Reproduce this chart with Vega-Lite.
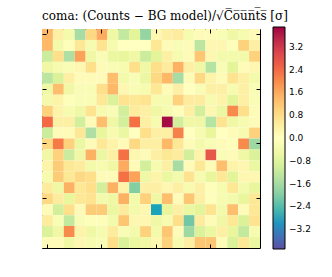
{
  "$schema": "https://vega.github.io/schema/vega-lite/v6.json",
  "width": 218,
  "height": 219,
  "autosize": {"type": "none"},
  "padding": {"left": 42, "top": 29, "right": 72, "bottom": 29},
  "background": "white",
  "title": {"text": "coma: (Counts − BG model)/√C̅o̅u̅n̅t̅s̅ [σ]", "font": "DejaVu Serif", "fontSize": 12, "fontWeight": "normal", "offset": 4, "anchor": "middle", "dx": 14, "color": "black"},
  "config": {"view": {"stroke": "black", "strokeWidth": 1}},
  "data": {"values": [
{"r":0,"c":0,"v":1.4},{"r":0,"c":1,"v":0.4},{"r":0,"c":2,"v":-0.4},{"r":0,"c":3,"v":-1.6},{"r":0,"c":4,"v":0.9},{"r":0,"c":5,"v":1.6},{"r":0,"c":6,"v":-0.5},{"r":0,"c":7,"v":-1.2},{"r":0,"c":8,"v":-0.8},{"r":0,"c":9,"v":-1.8},{"r":0,"c":10,"v":0.2},{"r":0,"c":11,"v":0.4},{"r":0,"c":12,"v":0.5},{"r":0,"c":13,"v":-0.3},{"r":0,"c":14,"v":0.1},{"r":0,"c":15,"v":0.1},{"r":0,"c":16,"v":-0.2},{"r":0,"c":17,"v":-0.5},{"r":0,"c":18,"v":-0.3},{"r":0,"c":19,"v":0.1},
{"r":1,"c":0,"v":1.4},{"r":1,"c":1,"v":-0.4},{"r":1,"c":2,"v":-0.1},{"r":1,"c":3,"v":0.6},{"r":1,"c":4,"v":-0.3},{"r":1,"c":5,"v":0.7},{"r":1,"c":6,"v":-0.3},{"r":1,"c":7,"v":0.0},{"r":1,"c":8,"v":0.0},{"r":1,"c":9,"v":0.0},{"r":1,"c":10,"v":0.6},{"r":1,"c":11,"v":0.1},{"r":1,"c":12,"v":-0.2},{"r":1,"c":13,"v":0.1},{"r":1,"c":14,"v":-1.3},{"r":1,"c":15,"v":0.2},{"r":1,"c":16,"v":0.2},{"r":1,"c":17,"v":-0.1},{"r":1,"c":18,"v":1.0},{"r":1,"c":19,"v":0.4},
{"r":2,"c":0,"v":-1.1},{"r":2,"c":1,"v":0.8},{"r":2,"c":2,"v":-1.5},{"r":2,"c":3,"v":1.7},{"r":2,"c":4,"v":-0.5},{"r":2,"c":5,"v":-0.2},{"r":2,"c":6,"v":-0.6},{"r":2,"c":7,"v":-0.7},{"r":2,"c":8,"v":-0.5},{"r":2,"c":9,"v":-1.1},{"r":2,"c":10,"v":-0.8},{"r":2,"c":11,"v":0.4},{"r":2,"c":12,"v":-0.3},{"r":2,"c":13,"v":0.1},{"r":2,"c":14,"v":1.2},{"r":2,"c":15,"v":0.2},{"r":2,"c":16,"v":-0.4},{"r":2,"c":17,"v":-0.4},{"r":2,"c":18,"v":-0.4},{"r":2,"c":19,"v":1.0},
{"r":3,"c":0,"v":-0.5},{"r":3,"c":1,"v":-0.3},{"r":3,"c":2,"v":-0.2},{"r":3,"c":3,"v":0.2},{"r":3,"c":4,"v":0.8},{"r":3,"c":5,"v":0.1},{"r":3,"c":6,"v":-0.2},{"r":3,"c":7,"v":-0.3},{"r":3,"c":8,"v":0.8},{"r":3,"c":9,"v":-0.5},{"r":3,"c":10,"v":0.8},{"r":3,"c":11,"v":0.5},{"r":3,"c":12,"v":1.5},{"r":3,"c":13,"v":0.4},{"r":3,"c":14,"v":-0.5},{"r":3,"c":15,"v":-1.4},{"r":3,"c":16,"v":-0.2},{"r":3,"c":17,"v":-0.8},{"r":3,"c":18,"v":0.1},{"r":3,"c":19,"v":0.2},
{"r":4,"c":0,"v":-1.3},{"r":4,"c":1,"v":-0.9},{"r":4,"c":2,"v":0.4},{"r":4,"c":3,"v":0.1},{"r":4,"c":4,"v":0.1},{"r":4,"c":5,"v":0.1},{"r":4,"c":6,"v":1.3},{"r":4,"c":7,"v":-0.4},{"r":4,"c":8,"v":-0.2},{"r":4,"c":9,"v":-0.6},{"r":4,"c":10,"v":0.9},{"r":4,"c":11,"v":1.4},{"r":4,"c":12,"v":-1.6},{"r":4,"c":13,"v":0.1},{"r":4,"c":14,"v":0.9},{"r":4,"c":15,"v":0.3},{"r":4,"c":16,"v":0.1},{"r":4,"c":17,"v":0.7},{"r":4,"c":18,"v":0.4},{"r":4,"c":19,"v":-0.4},
{"r":5,"c":0,"v":-0.5},{"r":5,"c":1,"v":1.3},{"r":5,"c":2,"v":-0.5},{"r":5,"c":3,"v":-0.2},{"r":5,"c":4,"v":-0.2},{"r":5,"c":5,"v":0.8},{"r":5,"c":6,"v":1.4},{"r":5,"c":7,"v":0.2},{"r":5,"c":8,"v":-0.2},{"r":5,"c":9,"v":-0.3},{"r":5,"c":10,"v":0.6},{"r":5,"c":11,"v":0.1},{"r":5,"c":12,"v":0.4},{"r":5,"c":13,"v":0.0},{"r":5,"c":14,"v":-0.2},{"r":5,"c":15,"v":0.4},{"r":5,"c":16,"v":0.4},{"r":5,"c":17,"v":-0.3},{"r":5,"c":18,"v":0.4},{"r":5,"c":19,"v":-0.2},
{"r":6,"c":0,"v":-0.4},{"r":6,"c":1,"v":0.3},{"r":6,"c":2,"v":-0.1},{"r":6,"c":3,"v":-0.2},{"r":6,"c":4,"v":-0.2},{"r":6,"c":5,"v":0.6},{"r":6,"c":6,"v":-0.9},{"r":6,"c":7,"v":0.7},{"r":6,"c":8,"v":0.6},{"r":6,"c":9,"v":0.7},{"r":6,"c":10,"v":-0.3},{"r":6,"c":11,"v":-0.3},{"r":6,"c":12,"v":1.0},{"r":6,"c":13,"v":0.5},{"r":6,"c":14,"v":0.5},{"r":6,"c":15,"v":-0.3},{"r":6,"c":16,"v":0.3},{"r":6,"c":17,"v":-0.8},{"r":6,"c":18,"v":0.4},{"r":6,"c":19,"v":-0.2},
{"r":7,"c":0,"v":1.0},{"r":7,"c":1,"v":0.3},{"r":7,"c":2,"v":-0.3},{"r":7,"c":3,"v":-0.5},{"r":7,"c":4,"v":0.7},{"r":7,"c":5,"v":-0.3},{"r":7,"c":6,"v":-0.2},{"r":7,"c":7,"v":-1.0},{"r":7,"c":8,"v":0.5},{"r":7,"c":9,"v":0.4},{"r":7,"c":10,"v":-0.5},{"r":7,"c":11,"v":-0.3},{"r":7,"c":12,"v":-0.1},{"r":7,"c":13,"v":0.4},{"r":7,"c":14,"v":-1.0},{"r":7,"c":15,"v":0.2},{"r":7,"c":16,"v":-0.6},{"r":7,"c":17,"v":2.0},{"r":7,"c":18,"v":0.8},{"r":7,"c":19,"v":0.1},
{"r":8,"c":0,"v":2.4},{"r":8,"c":1,"v":0.4},{"r":8,"c":2,"v":0.4},{"r":8,"c":3,"v":-1.0},{"r":8,"c":4,"v":0.1},{"r":8,"c":5,"v":1.3},{"r":8,"c":6,"v":-0.5},{"r":8,"c":7,"v":-1.0},{"r":8,"c":8,"v":2.3},{"r":8,"c":9,"v":0.4},{"r":8,"c":10,"v":-0.3},{"r":8,"c":11,"v":3.8},{"r":8,"c":12,"v":-1.0},{"r":8,"c":13,"v":-0.5},{"r":8,"c":14,"v":-0.5},{"r":8,"c":15,"v":-1.4},{"r":8,"c":16,"v":0.7},{"r":8,"c":17,"v":-0.5},{"r":8,"c":18,"v":-0.3},{"r":8,"c":19,"v":0.1},
{"r":9,"c":0,"v":-1.1},{"r":9,"c":1,"v":0.1},{"r":9,"c":2,"v":0.1},{"r":9,"c":3,"v":0.6},{"r":9,"c":4,"v":-1.5},{"r":9,"c":5,"v":-0.7},{"r":9,"c":6,"v":-0.3},{"r":9,"c":7,"v":-0.6},{"r":9,"c":8,"v":0.0},{"r":9,"c":9,"v":0.8},{"r":9,"c":10,"v":0.4},{"r":9,"c":11,"v":0.4},{"r":9,"c":12,"v":2.1},{"r":9,"c":13,"v":0.0},{"r":9,"c":14,"v":-0.3},{"r":9,"c":15,"v":-0.7},{"r":9,"c":16,"v":0.0},{"r":9,"c":17,"v":0.1},{"r":9,"c":18,"v":-0.3},{"r":9,"c":19,"v":1.0},
{"r":10,"c":0,"v":0.9},{"r":10,"c":1,"v":2.2},{"r":10,"c":2,"v":1.0},{"r":10,"c":3,"v":-0.6},{"r":10,"c":4,"v":0.1},{"r":10,"c":5,"v":0.6},{"r":10,"c":6,"v":0.3},{"r":10,"c":7,"v":0.1},{"r":10,"c":8,"v":0.9},{"r":10,"c":9,"v":0.4},{"r":10,"c":10,"v":0.4},{"r":10,"c":11,"v":1.4},{"r":10,"c":12,"v":0.6},{"r":10,"c":13,"v":0.1},{"r":10,"c":14,"v":-0.4},{"r":10,"c":15,"v":-0.2},{"r":10,"c":16,"v":0.1},{"r":10,"c":17,"v":-0.1},{"r":10,"c":18,"v":2.0},{"r":10,"c":19,"v":-1.7},
{"r":11,"c":0,"v":-0.5},{"r":11,"c":1,"v":1.0},{"r":11,"c":2,"v":-1.1},{"r":11,"c":3,"v":-0.5},{"r":11,"c":4,"v":1.5},{"r":11,"c":5,"v":-0.6},{"r":11,"c":6,"v":0.4},{"r":11,"c":7,"v":2.3},{"r":11,"c":8,"v":0.2},{"r":11,"c":9,"v":0.1},{"r":11,"c":10,"v":0.4},{"r":11,"c":11,"v":0.6},{"r":11,"c":12,"v":0.5},{"r":11,"c":13,"v":-1.0},{"r":11,"c":14,"v":0.3},{"r":11,"c":15,"v":2.7},{"r":11,"c":16,"v":-0.2},{"r":11,"c":17,"v":0.1},{"r":11,"c":18,"v":-0.5},{"r":11,"c":19,"v":-0.9},
{"r":12,"c":0,"v":0.3},{"r":12,"c":1,"v":1.1},{"r":12,"c":2,"v":0.6},{"r":12,"c":3,"v":0.5},{"r":12,"c":4,"v":-0.4},{"r":12,"c":5,"v":-0.3},{"r":12,"c":6,"v":-0.5},{"r":12,"c":7,"v":1.6},{"r":12,"c":8,"v":0.1},{"r":12,"c":9,"v":-1.0},{"r":12,"c":10,"v":-0.3},{"r":12,"c":11,"v":0.4},{"r":12,"c":12,"v":-1.6},{"r":12,"c":13,"v":0.1},{"r":12,"c":14,"v":0.6},{"r":12,"c":15,"v":0.1},{"r":12,"c":16,"v":1.3},{"r":12,"c":17,"v":0.3},{"r":12,"c":18,"v":0.2},{"r":12,"c":19,"v":-0.6},
{"r":13,"c":0,"v":-0.3},{"r":13,"c":1,"v":1.1},{"r":13,"c":2,"v":0.6},{"r":13,"c":3,"v":0.9},{"r":13,"c":4,"v":0.8},{"r":13,"c":5,"v":0.1},{"r":13,"c":6,"v":0.1},{"r":13,"c":7,"v":2.3},{"r":13,"c":8,"v":1.7},{"r":13,"c":9,"v":-0.5},{"r":13,"c":10,"v":0.3},{"r":13,"c":11,"v":-0.6},{"r":13,"c":12,"v":-0.4},{"r":13,"c":13,"v":0.7},{"r":13,"c":14,"v":-0.3},{"r":13,"c":15,"v":-0.7},{"r":13,"c":16,"v":0.6},{"r":13,"c":17,"v":-0.8},{"r":13,"c":18,"v":0.2},{"r":13,"c":19,"v":0.2},
{"r":14,"c":0,"v":0.5},{"r":14,"c":1,"v":-0.5},{"r":14,"c":2,"v":1.5},{"r":14,"c":3,"v":0.6},{"r":14,"c":4,"v":0.8},{"r":14,"c":5,"v":-1.0},{"r":14,"c":6,"v":1.5},{"r":14,"c":7,"v":0.3},{"r":14,"c":8,"v":-2.0},{"r":14,"c":9,"v":0.4},{"r":14,"c":10,"v":0.4},{"r":14,"c":11,"v":0.2},{"r":14,"c":12,"v":0.4},{"r":14,"c":13,"v":-0.3},{"r":14,"c":14,"v":0.4},{"r":14,"c":15,"v":-0.1},{"r":14,"c":16,"v":-0.3},{"r":14,"c":17,"v":0.6},{"r":14,"c":18,"v":-0.4},{"r":14,"c":19,"v":-0.7},
{"r":15,"c":0,"v":0.9},{"r":15,"c":1,"v":0.5},{"r":15,"c":2,"v":-0.7},{"r":15,"c":3,"v":0.6},{"r":15,"c":4,"v":0.7},{"r":15,"c":5,"v":-0.4},{"r":15,"c":6,"v":-0.5},{"r":15,"c":7,"v":1.5},{"r":15,"c":8,"v":-0.4},{"r":15,"c":9,"v":1.0},{"r":15,"c":10,"v":-0.5},{"r":15,"c":11,"v":1.3},{"r":15,"c":12,"v":0.1},{"r":15,"c":13,"v":1.2},{"r":15,"c":14,"v":0.4},{"r":15,"c":15,"v":-0.1},{"r":15,"c":16,"v":-0.3},{"r":15,"c":17,"v":-0.4},{"r":15,"c":18,"v":-0.7},{"r":15,"c":19,"v":0.6},
{"r":16,"c":0,"v":0.1},{"r":16,"c":1,"v":-1.0},{"r":16,"c":2,"v":0.8},{"r":16,"c":3,"v":0.1},{"r":16,"c":4,"v":1.1},{"r":16,"c":5,"v":1.1},{"r":16,"c":6,"v":-0.6},{"r":16,"c":7,"v":0.5},{"r":16,"c":8,"v":-0.4},{"r":16,"c":9,"v":0.2},{"r":16,"c":10,"v":-2.8},{"r":16,"c":11,"v":-0.7},{"r":16,"c":12,"v":0.4},{"r":16,"c":13,"v":-0.6},{"r":16,"c":14,"v":-0.8},{"r":16,"c":15,"v":0.7},{"r":16,"c":16,"v":-0.4},{"r":16,"c":17,"v":1.3},{"r":16,"c":18,"v":0.1},{"r":16,"c":19,"v":0.6},
{"r":17,"c":0,"v":0.5},{"r":17,"c":1,"v":-0.2},{"r":17,"c":2,"v":-1.2},{"r":17,"c":3,"v":-0.2},{"r":17,"c":4,"v":-0.1},{"r":17,"c":5,"v":-0.1},{"r":17,"c":6,"v":-0.4},{"r":17,"c":7,"v":1.2},{"r":17,"c":8,"v":0.2},{"r":17,"c":9,"v":0.2},{"r":17,"c":10,"v":-0.5},{"r":17,"c":11,"v":-0.3},{"r":17,"c":12,"v":0.8},{"r":17,"c":13,"v":-2.2},{"r":17,"c":14,"v":0.5},{"r":17,"c":15,"v":0.1},{"r":17,"c":16,"v":-0.5},{"r":17,"c":17,"v":0.6},{"r":17,"c":18,"v":-0.9},{"r":17,"c":19,"v":0.7},
{"r":18,"c":0,"v":-0.9},{"r":18,"c":1,"v":-0.5},{"r":18,"c":2,"v":2.0},{"r":18,"c":3,"v":0.3},{"r":18,"c":4,"v":-0.5},{"r":18,"c":5,"v":-0.3},{"r":18,"c":6,"v":0.5},{"r":18,"c":7,"v":-0.2},{"r":18,"c":8,"v":-0.4},{"r":18,"c":9,"v":1.0},{"r":18,"c":10,"v":-0.4},{"r":18,"c":11,"v":1.2},{"r":18,"c":12,"v":0.1},{"r":18,"c":13,"v":-1.7},{"r":18,"c":14,"v":-0.9},{"r":18,"c":15,"v":-0.6},{"r":18,"c":16,"v":0.4},{"r":18,"c":17,"v":-0.7},{"r":18,"c":18,"v":-1.2},{"r":18,"c":19,"v":-0.3},
{"r":19,"c":0,"v":0.1},{"r":19,"c":1,"v":0.1},{"r":19,"c":2,"v":-0.5},{"r":19,"c":3,"v":0.2},{"r":19,"c":4,"v":-0.3},{"r":19,"c":5,"v":-0.2},{"r":19,"c":6,"v":0.8},{"r":19,"c":7,"v":-0.9},{"r":19,"c":8,"v":-0.6},{"r":19,"c":9,"v":-0.5},{"r":19,"c":10,"v":0.2},{"r":19,"c":11,"v":1.0},{"r":19,"c":12,"v":-0.3},{"r":19,"c":13,"v":0.4},{"r":19,"c":14,"v":1.2},{"r":19,"c":15,"v":1.2},{"r":19,"c":16,"v":0.1},{"r":19,"c":17,"v":-0.9},{"r":19,"c":18,"v":0.6},{"r":19,"c":19,"v":-0.6}
  ]},
  "layer": [
    {
      "mark": {"type": "rect"},
      "encoding": {
        "x": {"field": "c", "type": "ordinal", "scale": {"paddingInner": 0, "paddingOuter": 0}, "axis": {"orient": "bottom", "values": [0, 5, 10, 15], "labels": false, "title": null, "tickSize": -4, "domain": false, "tickColor": "black", "grid": false}},
        "y": {"field": "r", "type": "ordinal", "scale": {"paddingInner": 0, "paddingOuter": 0}, "axis": {"orient": "left", "values": [0, 5, 10, 15], "labels": false, "title": null, "tickSize": -4, "domain": false, "tickColor": "black", "grid": false}},
        "color": {
          "field": "v", "type": "quantitative",
          "scale": {"domain": [-3.9, -3.12, -2.34, -1.56, -0.78, 0, 0.78, 1.56, 2.34, 3.12, 3.9], "range": ["#5e4fa2", "#3288bd", "#66c2a5", "#abdda4", "#e6f598", "#ffffbf", "#fee08b", "#fdae61", "#f46d43", "#d53e4f", "#9e0142"]},
          "legend": {"orient": "none", "legendX": 231, "legendY": -2, "direction": "vertical", "title": null, "gradientLength": 222, "gradientThickness": 12, "values": [-3.2, -2.4, -1.6, -0.8, 0, 0.8, 1.6, 2.4, 3.2], "labelExpr": "replace(format(datum.value, '.1f'), '-', '−')", "labelFont": "DejaVu Sans", "labelFontSize": 9, "labelColor": "black", "labelOffset": 4, "labelOverlap": false, "gradientStrokeColor": "black", "gradientStrokeWidth": 1}
        }
      }
    },
    {
      "mark": {"type": "rect", "opacity": 0},
      "encoding": {
        "x": {"field": "c", "type": "ordinal", "axis": {"orient": "top", "values": [0, 5, 10, 15], "labels": false, "title": null, "tickSize": -4, "domain": false, "tickColor": "black", "grid": false}},
        "y": {"field": "r", "type": "ordinal", "axis": {"orient": "right", "values": [0, 5, 10, 15], "labels": false, "title": null, "tickSize": -4, "domain": false, "tickColor": "black", "grid": false}}
      }
    }
  ],
  "resolve": {"axis": {"x": "independent", "y": "independent"}}
}
